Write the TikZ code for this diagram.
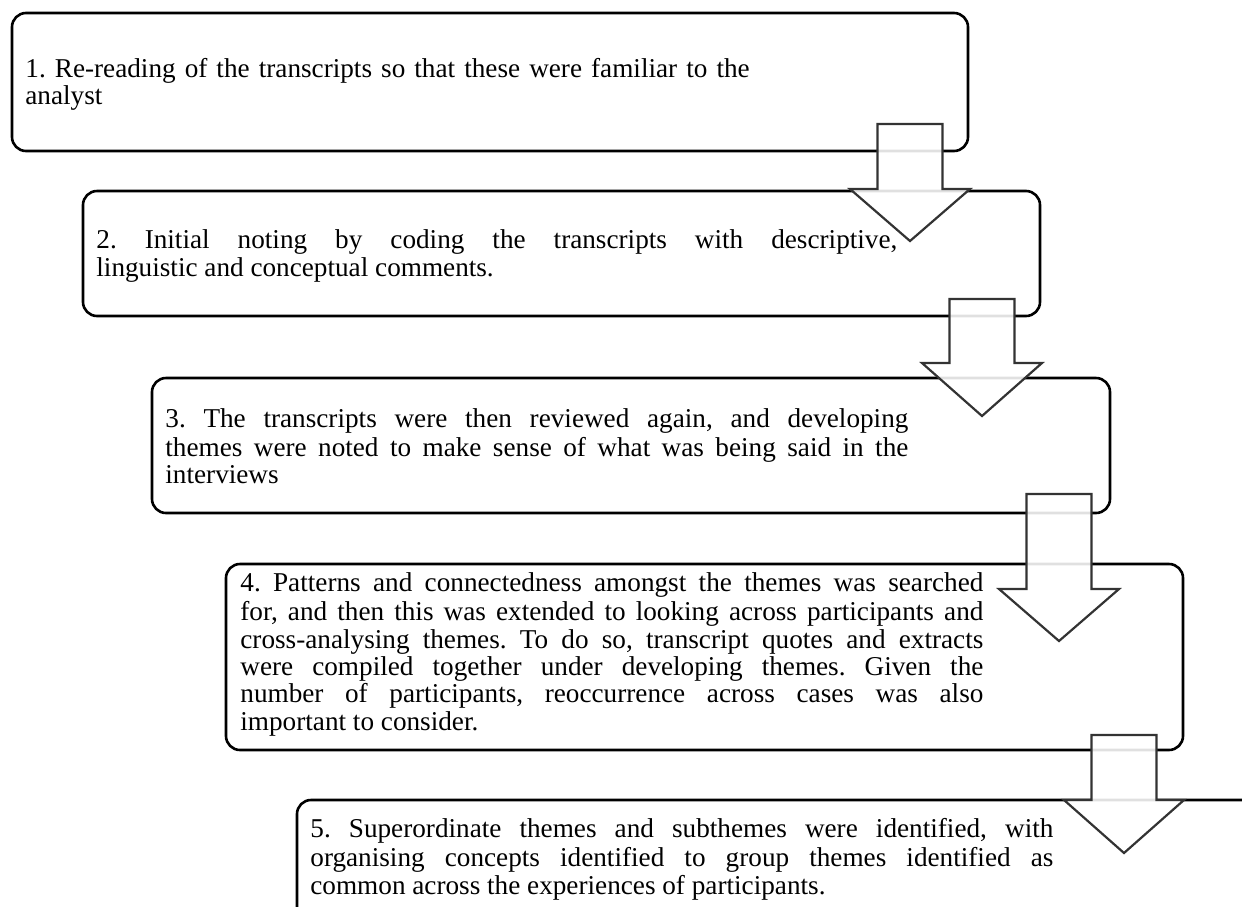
\documentclass[tikz,border=0pt]{standalone}
\usepackage{fontspec}
\setmainfont{Liberation Serif}
\newcommand{\blockarr}[4]{% cx, top, base, tip
  \draw[blockarrow] (#1-32.5,#2) -- (#1+32.5,#2) -- (#1+32.5,#3) -- (#1+60,#3)
    -- (#1,#4) -- (#1-60,#3) -- (#1-32.5,#3) -- cycle;}
\begin{document}
\frenchspacing
\begin{tikzpicture}[x=0.5pt,y=-0.5pt,
  box/.style={draw=black, line width=1.3pt, rounded corners=7pt, inner sep=0pt},
  txt/.style={anchor=north west, inner sep=0pt, text width=371.5pt, align=justify,
    font=\fontsize{13.6pt}{13.65pt}\selectfont\frenchspacing},
  blockarrow/.style={draw=black!80, line width=1.1pt, fill=white, fill opacity=0.88, line join=miter}]
\useasboundingbox (0,0) rectangle (1242,906);
\clip (0,0) rectangle (1242,906);
% boxes
\node[box, minimum width=478pt, minimum height=69pt] (b1) at (490,82) {};
\node[box, minimum width=478.5pt, minimum height=62.5pt] (b2) at (561.5,253.5) {};
\node[box, minimum width=479pt, minimum height=67.5pt] (b3) at (631,445.5) {};
\node[box, minimum width=478.5pt, minimum height=93pt] (b4) at (704.5,657) {};
\node[box, minimum width=490pt, minimum height=80pt] (b5) at (787,880) {};
% texts
\node[txt, align=left] (t1) at (25,57.9) {\strut 1. Re-reading of the transcripts so that these were familiar to the\newline analyst};
\node[txt, text width=400.5pt] (t2) at (96,229.2) {\strut 2. Initial noting by coding the transcripts with descriptive,\linebreak linguistic and conceptual comments.};
\node[txt] (t3) at (165,407.6) {\strut 3. The transcripts were then reviewed again, and developing\linebreak themes were noted to make sense of what was being said in the\linebreak interviews};
\node[txt] (t4) at (240,572) {\strut 4. Patterns and connectedness amongst the themes was searched\linebreak for, and then this was extended to looking across participants and\linebreak cross-analysing themes. To do so, transcript quotes and extracts\linebreak were compiled together under developing themes. Given the\linebreak number of participants, reoccurrence across cases was also\linebreak important to consider.};
\node[txt] (t5) at (310,818) {\strut 5. Superordinate themes and subthemes were identified, with\linebreak organising concepts identified to group themes identified as\linebreak common across the experiences of participants.};
% block arrows
\blockarr{910}{124}{189}{241}
\blockarr{982}{299}{363}{416}
\blockarr{1059}{494}{589}{641}
\blockarr{1124}{735}{800}{853}
\end{tikzpicture}
\end{document}
